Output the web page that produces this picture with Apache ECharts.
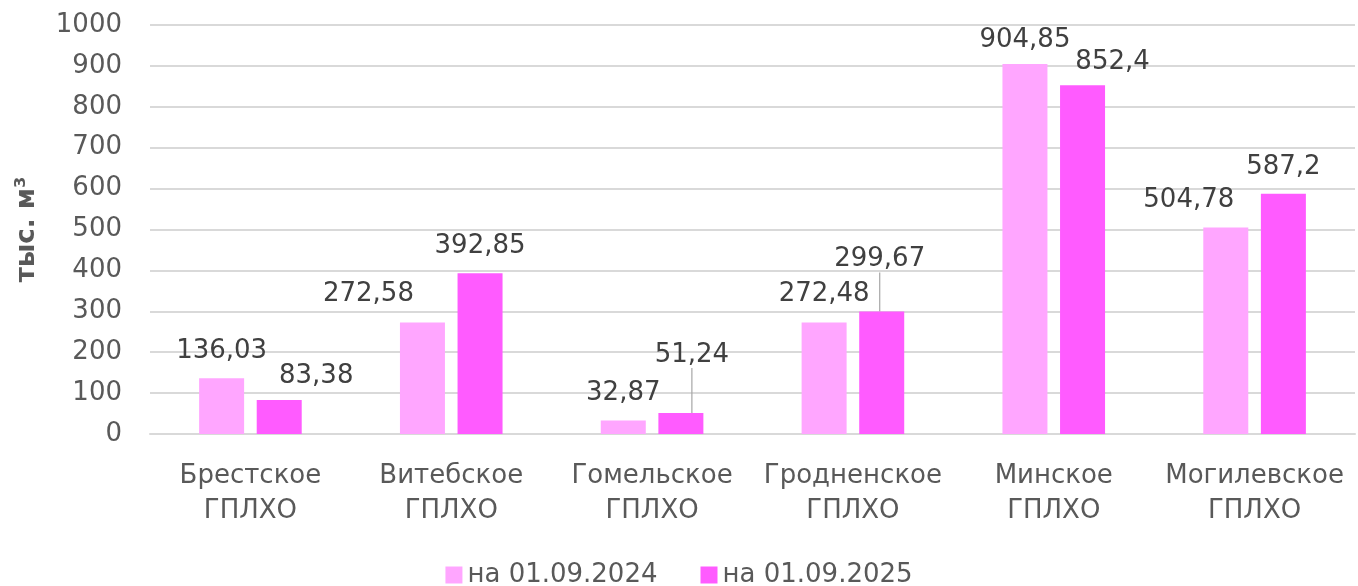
<!DOCTYPE html>
<html>
<head>
<meta charset="utf-8">
<script src="https://cdn.jsdelivr.net/npm/echarts@6/dist/echarts.min.js"></script>
<style>
html, body { margin: 0; padding: 0; background: #fff; }
#chart { width: 1358px; height: 586px; }
</style>
</head>
<body>
<div id="chart"></div>
<script>
var categories = ['Брестское\nГПЛХО', 'Витебское\nГПЛХО', 'Гомельское\nГПЛХО', 'Гродненское\nГПЛХО', 'Минское\nГПЛХО', 'Могилевское\nГПЛХО'];
var seriesNames = ['на 01.09.2024', 'на 01.09.2025'];
var values2024 = [136.03, 272.58, 32.87, 272.48, 904.85, 504.78];
var values2025 = [83.38, 392.85, 51.24, 299.67, 852.4, 587.2];

var font = 'DejaVu Sans';

// сдвиги подписей (как в исходной диаграмме)
var shift = [
	[[0, 0], [-54, -1], [0, 0], [0, -1], [0, 3], [-37, 0]],
	[[37, 3], [0, 0], [11, -31], [-2, -25], [30, 4], [0, 0]]
];
// выноски только у двух подписей
var withLine = [[], [2, 3]];

function fmt(v) {
	return String(v).replace('.', ',');
}

function makeData(arr, s) {
	return arr.map(function(v, i) {
		var item = { value: v };
		if (withLine[s].indexOf(i) >= 0) {
			item.labelLine = { show: true, lineStyle: { color: '#a6a6a6', width: 1.2 } };
		}
		return item;
	});
}

var myChart = echarts.init(document.getElementById('chart'));
var option = {
	animation: false,
	textStyle: { fontFamily: font },
	grid: {
		left: 150,
		right: 3,
		top: 25,
		bottom: 152
	},
	legend: {
		bottom: -7,
		left: 'center',
		itemWidth: 17,
		itemHeight: 17,
		itemGap: 43,
		icon: 'rect',
		textStyle: { fontFamily: font, fontSize: 26, color: '#595959' },
		data: seriesNames
	},
	xAxis: {
		type: 'category',
		data: categories,
		axisTick: { show: false },
		axisLine: { lineStyle: { color: '#d9d9d9', width: 2 } },
		axisLabel: {
			fontFamily: font,
			fontSize: 26,
			color: '#595959',
			lineHeight: 35,
			margin: 25,
			interval: 0
		}
	},
	yAxis: {
		type: 'value',
		min: 0,
		max: 1000,
		interval: 100,
		name: 'тыс. м³',
		nameLocation: 'middle',
		nameRotate: 90,
		nameGap: 110,
		nameTextStyle: { fontFamily: font, fontSize: 26, fontWeight: 'bold', color: '#595959' },
		axisLine: { show: false },
		axisTick: { show: false },
		axisLabel: {
			fontFamily: font,
			fontSize: 26,
			color: '#595959',
			margin: 28,
			formatter: function(v) { return String(v); }
		},
		splitLine: { lineStyle: { color: '#d9d9d9', width: 2 } }
	},
	series: [values2024, values2025].map(function(arr, s) {
		return {
			name: seriesNames[s],
			type: 'bar',
			barWidth: 45,
			barGap: '28%',
			itemStyle: { color: s === 0 ? '#ffa6ff' : '#ff5bff' },
			label: {
				show: true,
				position: 'top',
				distance: 14,
				fontFamily: font,
				fontSize: 26,
				color: '#404040',
				formatter: function(p) { return fmt(p.value); }
			},
			labelLine: { show: false },
			labelLayout: function(p) {
				var d = shift[s][p.dataIndex];
				return { dx: d[0], dy: d[1] };
			},
			data: makeData(arr, s)
		};
	})
};
myChart.setOption(option);
</script>
</body>
</html>
